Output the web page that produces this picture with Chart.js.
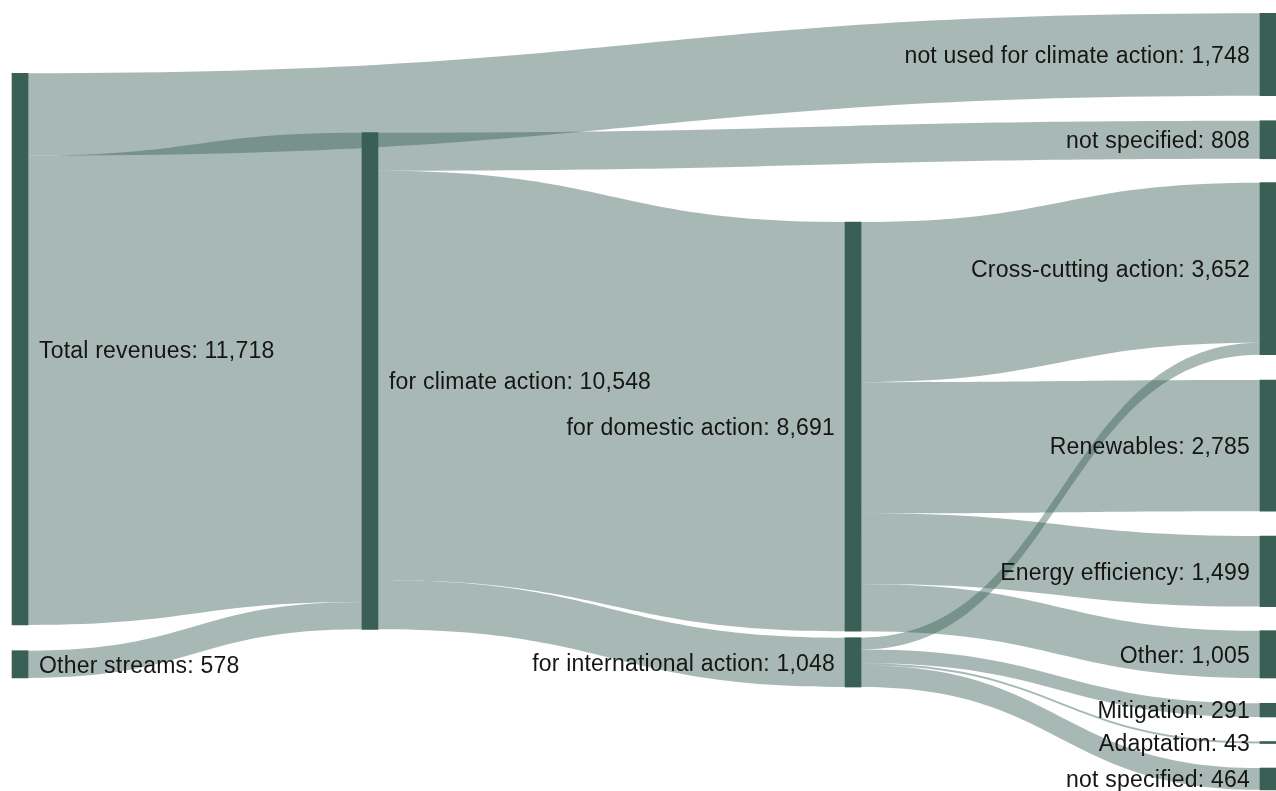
<!DOCTYPE html>
<html>
<head>
    <title>Climate revenues Sankey</title>
    <script src="https://cdn.jsdelivr.net/npm/chart.js"></script>
    <style>
        html, body { margin: 0; padding: 0; background: #ffffff; }
        #wrap { width: 1276px; height: 791px; position: relative; }
    </style>
</head>
<body>
    <div id="wrap"><canvas id="sankeyChart"></canvas></div>
    <script>
        // Nodes
        const nodeNames = ['Total revenues', 'Other streams', 'for climate action',
            'not used for climate action', 'not specified', 'for domestic action',
            'for international action', 'Cross-cutting action', 'Renewables',
            'Energy efficiency', 'Other', 'Mitigation', 'Adaptation', 'not specified'];
        const nodeValues = [11718, 578, 10548, 1748, 808, 8691, 1048, 3652, 2785, 1499, 1005, 291, 43, 464];

        // Links (index into nodeNames)
        const linkSource = [0, 0, 1, 2, 2, 2, 5, 5, 5, 5, 6, 6, 6, 6];
        const linkTarget = [3, 2, 2, 4, 5, 6, 7, 8, 9, 10, 7, 11, 12, 13];
        const linkValues = [1748, 9970, 578, 808, 8691, 1048, 3402, 2785, 1499, 1005, 250, 291, 43, 464];

        // Layout: column of each node, column position, node top (value units)
        const nodeColumn = [0, 0, 1, 3, 3, 2, 2, 3, 3, 3, 3, 3, 3, 3];
        const columnX = [0, 0.2804, 0.6675, 1];
        const nodeTop = [1557, 13820, 2818, 283, 2564, 4715, 13544, 3880, 8071, 11384, 13395, 14937, 15749, 16312];

        const NODE_COLOR = '#3a6056';
        const LINK_COLOR = 'rgba(58, 96, 86, 0.44)';
        const NODE_W = 16;

        const centre = i => nodeTop[i] + nodeValues[i] / 2;

        const sankeyPlugin = {
            id: 'sankeyLinks',
            beforeDatasetsDraw(chart) {
                const { ctx, scales: { x, y } } = chart;
                const outOff = nodeTop.slice();
                const inOff = nodeTop.slice();
                const srcY = [], tgtY = [];
                const idx = linkValues.map((v, i) => i);

                // stack links at each node, ordered by the position of the other end
                idx.slice().sort((a, b) => centre(linkTarget[a]) - centre(linkTarget[b])).forEach(l => {
                    srcY[l] = outOff[linkSource[l]];
                    outOff[linkSource[l]] += linkValues[l];
                });
                idx.slice().sort((a, b) => centre(linkSource[a]) - centre(linkSource[b])).forEach(l => {
                    tgtY[l] = inOff[linkTarget[l]];
                    inOff[linkTarget[l]] += linkValues[l];
                });

                ctx.save();
                ctx.fillStyle = LINK_COLOR;
                idx.forEach(l => {
                    const x0 = x.getPixelForValue(columnX[nodeColumn[linkSource[l]]]) + NODE_W / 2;
                    const x1 = x.getPixelForValue(columnX[nodeColumn[linkTarget[l]]]) - NODE_W / 2;
                    const xm = (x0 + x1) / 2;
                    const a0 = y.getPixelForValue(srcY[l]);
                    const a1 = y.getPixelForValue(srcY[l] + linkValues[l]);
                    const b0 = y.getPixelForValue(tgtY[l]);
                    const b1 = y.getPixelForValue(tgtY[l] + linkValues[l]);
                    ctx.beginPath();
                    ctx.moveTo(x0, a0);
                    ctx.bezierCurveTo(xm, a0, xm, b0, x1, b0);
                    ctx.lineTo(x1, b1);
                    ctx.bezierCurveTo(xm, b1, xm, a1, x0, a1);
                    ctx.closePath();
                    ctx.fill();
                });
                ctx.restore();
            },
            afterDatasetsDraw(chart) {
                const { ctx, scales: { x, y } } = chart;
                ctx.save();
                ctx.font = '23px "Liberation Sans", Arial, sans-serif';
                ctx.letterSpacing = '0.2px';
                ctx.fillStyle = '#151515';
                ctx.textBaseline = 'middle';
                nodeNames.forEach((name, i) => {
                    const px = x.getPixelForValue(columnX[nodeColumn[i]]);
                    const py = y.getPixelForValue(centre(i));
                    const text = name + ': ' + nodeValues[i].toLocaleString('en-US');
                    if (nodeColumn[i] < 2) {
                        ctx.textAlign = 'left';
                        ctx.fillText(text, px + NODE_W / 2 + 11, py + 2);
                    } else {
                        ctx.textAlign = 'right';
                        ctx.fillText(text, px - NODE_W / 2 - 10, py + 2);
                    }
                });
                ctx.restore();
            }
        };

        const ctx = document.getElementById('sankeyChart').getContext('2d');
        new Chart(ctx, {
            type: 'bar',
            data: {
                datasets: [{
                    data: nodeNames.map((n, i) => ({
                        x: columnX[nodeColumn[i]],
                        y: [nodeTop[i], nodeTop[i] + nodeValues[i]]
                    })),
                    backgroundColor: NODE_COLOR,
                    barThickness: NODE_W,
                    borderWidth: 0,
                    clip: false
                }]
            },
            options: {
                responsive: true,
                maintainAspectRatio: false,
                animation: false,
                layout: { padding: { left: 20, right: 8, top: 0, bottom: 0 } },
                scales: {
                    x: { type: 'linear', min: 0, max: 1, offset: false, display: false },
                    y: { type: 'linear', min: 0, max: 16800, reverse: true, display: false }
                },
                plugins: {
                    legend: { display: false },
                    tooltip: { enabled: false }
                }
            },
            plugins: [sankeyPlugin]
        });
    </script>
</body>
</html>
